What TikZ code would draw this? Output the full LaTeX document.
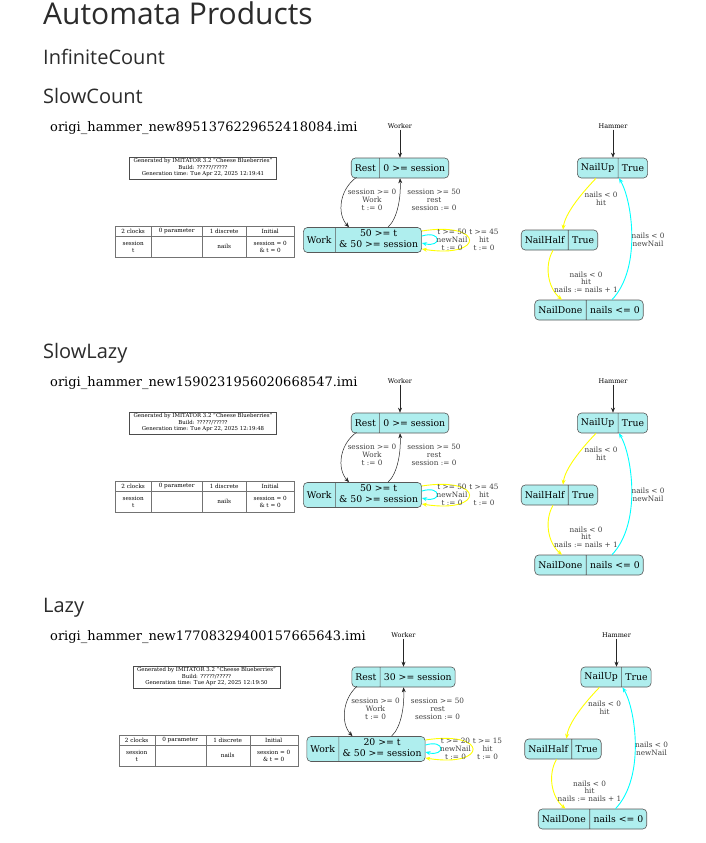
\documentclass[tikz,border=0pt]{standalone}
\usepackage{fontspec}
\setmainfont{DejaVu Serif}
\newfontfamily\headfont{Open Sans}
\usetikzlibrary{shapes.multipart,arrows.meta}
\definecolor{stfill}{HTML}{AFEEEE}
\definecolor{headc}{HTML}{2B2B2B}
\definecolor{yel}{HTML}{FFFF00}
\definecolor{cya}{HTML}{00FFFF}
\tikzset{
  x=1pt, y=-1pt,
  stnode/.style={rectangle split, rectangle split horizontal, rectangle split parts=2,
    draw=black!65, fill=stfill, rounded corners=4pt, font=\fontsize{9.3}{10.5}\selectfont,
    inner xsep=3.5pt, inner ysep=2pt, minimum height=20pt, line width=0.6pt},
  elab/.style={font=\fontsize{7.3}{7.7}\selectfont, align=center, text=black!75, inner sep=0pt},
  tr/.style={-{Stealth[length=5pt,width=4pt]}, line width=0.5pt, draw=black!85},
  ytr/.style={tr, draw=yel, line width=0.9pt},
  ctr/.style={tr, draw=cya, line width=0.9pt},
  autlab/.style={font=\fontsize{6.5}{6.5}\selectfont, inner sep=1pt},
  head1/.style={font=\headfont\fontsize{30}{30}\selectfont, text=headc, anchor=base west, inner sep=0pt},
  head2/.style={font=\headfont\fontsize{20}{20}\selectfont, text=headc, anchor=base west, inner sep=0pt},
  fname/.style={font=\fontsize{13}{13}\selectfont, anchor=base west, inner sep=0pt},
  gen/.style={font=\fontsize{5.4}{6.5}\selectfont, align=center, draw=black!70, minimum width=147pt,
    minimum height=22pt, inner sep=0pt, line width=0.5pt},
  cell/.style={draw=black!55, font=\fontsize{5.7}{6.5}\selectfont, align=center, inner sep=0pt,
    anchor=north west, line width=0.4pt},
}
\newcommand\twoline[2]{\begin{tabular}{@{}c@{}}#1\\#2\end{tabular}}
% #1 prefix, #2 dy, #3 dx, #4 file, #5 time, #6 rest inv, #7 work inv, #8 newNail guard, #9 hit guard
\newcommand\prodblock[9]{%
  \node[fname] (#1fn) at (50,131+#2) {#4};
  \begin{scope}[shift={(#3,#2)}]
    % generated box
    \node[gen] (#1gen) at (203,168) {Generated by IMITATOR 3.2 "Cheese Blueberries"\\Build: ?????/?????\\Generation time: Tue Apr 22, 2025 12:19:#5};
    % table
    \node[cell, minimum width=36pt, minimum height=10pt] (#1c1) at (115,226) {2 clocks};
    \node[cell, minimum width=51pt, minimum height=10pt] (#1c2) at (151,226) {0 parameter};
    \node[cell, minimum width=44pt, minimum height=10pt] (#1c3) at (202,226) {1 discrete};
    \node[cell, minimum width=48pt, minimum height=10pt] (#1c4) at (246,226) {Initial};
    \node[cell, minimum width=36pt, minimum height=21pt] (#1d1) at (115,236) {session\\t};
    \node[cell, minimum width=51pt, minimum height=21pt] (#1d2) at (151,236) {};
    \node[cell, minimum width=44pt, minimum height=21pt] (#1d3) at (202,236) {nails};
    \node[cell, minimum width=48pt, minimum height=21pt] (#1d4) at (246,236) {session = 0\\\& t = 0};
    % worker
    \node[autlab] (#1wl) at (400,126) {Worker};
    \node[stnode] (#1R) at (400,168) {Rest\nodepart{two}#6};
    \node[stnode] (#1W) at (362.5,240) {Work\nodepart{two}\twoline{#7}{\& 50 >= session}};
    \draw[tr] (#1wl.south) -- (#1wl.south |- #1R.north);
    \draw[tr] ([xshift=5.5pt,yshift=1pt]#1R.south west) .. controls (339,190) and (337,214) .. ([xshift=-13.5pt]#1W.north);
    \draw[tr] ([xshift=25.5pt]#1W.north) .. controls (398,218) and (401,196) .. (#1R.south);
    \node[elab] (#1l1) at (372,200) {session >= 0\\Work\\t := 0};
    \node[elab] (#1l2) at (434,200) {session >= 50\\rest\\session := 0};
    \draw[ytr] ([yshift=9pt]#1W.east) .. controls (485,221) and (485,259) .. ([yshift=-9pt]#1W.east);
    \draw[ctr] ([yshift=4pt]#1W.east) .. controls (442,230) and (442,248) .. ([yshift=-3pt]#1W.east);
    \node[elab] (#1l3) at (452,240) {#8\\newNail\\t := 0};
    \node[elab] (#1l4) at (484,240) {#9\\hit\\t := 0};
    % hammer
    \node[autlab] (#1hl) at (613,126) {Hammer};
    \node[stnode] (#1U) at (612.5,168) {NailUp\nodepart{two}True};
    \node[stnode] (#1H) at (559.5,240) {NailHalf\nodepart{two}True};
    \node[stnode] (#1D) at (589,310) {NailDone\nodepart{two}nails <= 0};
    \draw[tr] (#1hl.south) -- (#1hl.south |- #1U.north);
    \draw[ytr] ([xshift=-16.5pt]#1U.south) .. controls (580,195) and (565,214) .. ([xshift=3.5pt]#1H.north);
    \draw[ytr] ([xshift=-6.5pt]#1H.south) .. controls (544,266) and (548,288) .. ([xshift=-27pt]#1D.north);
    \draw[ctr] ([xshift=23pt]#1D.north) .. controls (642,268) and (632,200) .. ([xshift=6.5pt]#1U.south);
    \node[elab] (#1l5) at (601,199) {nails < 0\\hit};
    \node[elab] (#1l6) at (586,282) {nails < 0\\hit\\nails := nails + 1};
    \node[elab] (#1l7) at (648,240) {nails < 0\\newNail};
  \end{scope}
}
\begin{document}
\begin{tikzpicture}
  \path[use as bounding box, fill=white] (0,0) rectangle (705,843);
  \node[head1] (title) at (43,25) {Automata Products};
  \node[head2] (inf) at (43,64) {InfiniteCount};
  \node[head2] (sc) at (43,103) {SlowCount};
  \node[head2] (sl) at (43,358) {SlowLazy};
  \node[head2] (lz) at (43,612) {Lazy};
  \prodblock{a}{0}{0}{origi\_hammer\_new8951376229652418084.imi}{41}{0 >= session}{50 >= t}{t >= 50}{t >= 45}
  \prodblock{b}{255}{0}{origi\_hammer\_new1590231956020668547.imi}{48}{0 >= session}{50 >= t}{t >= 50}{t >= 45}
  \prodblock{c}{509}{3.5}{origi\_hammer\_new17708329400157665643.imi}{50}{30 >= session}{20 >= t}{t >= 20}{t >= 15}
\end{tikzpicture}
\end{document}
